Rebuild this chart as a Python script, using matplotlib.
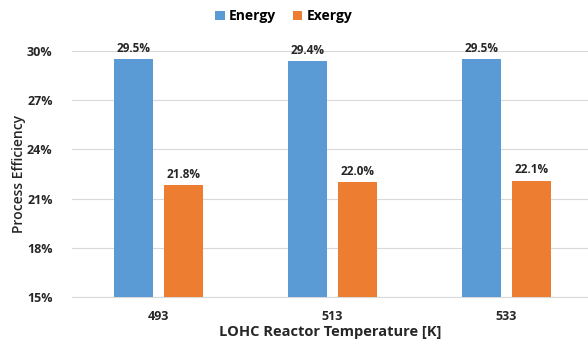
import numpy as np
import matplotlib.pyplot as plt

temps = ['493', '513', '533']
energy = [29.5, 29.4, 29.5]
exergy = [21.8, 22.0, 22.1]

plt.rcParams['font.family'] = ['Open Sans', 'DejaVu Sans']

fig = plt.figure(figsize=(5.88, 3.43), dpi=100)
ax = fig.add_axes([72/588, 46/343, 516/588, 246/343])

x = np.arange(len(temps))
w = 0.224
off = 0.144
b1 = ax.bar(x - off, energy, w, color='#5B9BD5', label='Energy', zorder=3)
b2 = ax.bar(x + off, exergy, w, color='#ED7D31', label='Exergy', zorder=3)

for bars in (b1, b2):
    for r in bars:
        ax.text(r.get_x() + r.get_width()/2, r.get_height() + 0.25,
                '%.1f%%' % r.get_height(), ha='center', va='bottom',
                fontsize=8.5, fontweight='bold', color='#262626')

ax.set_ylim(15, 30)
ax.set_yticks(np.arange(15, 31, 3))
ax.set_yticklabels(['%d%%' % v for v in range(15, 31, 3)])
ax.set_xlim(-0.5, 2.47)
ax.set_xticks(x)
ax.set_xticklabels(temps)
ax.tick_params(length=0, labelsize=9, colors='#262626')
ax.tick_params(axis='x', pad=9)
ax.tick_params(axis='y', pad=14)
for lab in ax.get_xticklabels() + ax.get_yticklabels():
    lab.set_fontweight('bold')
ax.grid(axis='y', color='#d9d9d9', linewidth=0.8, zorder=0)
for s in ['top', 'right', 'left']:
    ax.spines[s].set_visible(False)
ax.spines['bottom'].set_color('#d9d9d9')

ax.set_xlabel('LOHC Reactor Temperature [K]', fontsize=10.5, fontweight='bold', color='#262626', labelpad=2)
ax.set_ylabel('Process Efficiency', fontsize=10, fontweight='semibold', color='#262626', labelpad=1)

ax.legend(loc='lower center', bbox_to_anchor=(0.41, 1.09), ncol=2, frameon=False,
          prop={'weight': 'bold', 'size': 10}, handlelength=0.7, handleheight=0.7,
          columnspacing=1.2, handletextpad=0.3, borderaxespad=0)

fig.savefig('out.png', dpi=100)
